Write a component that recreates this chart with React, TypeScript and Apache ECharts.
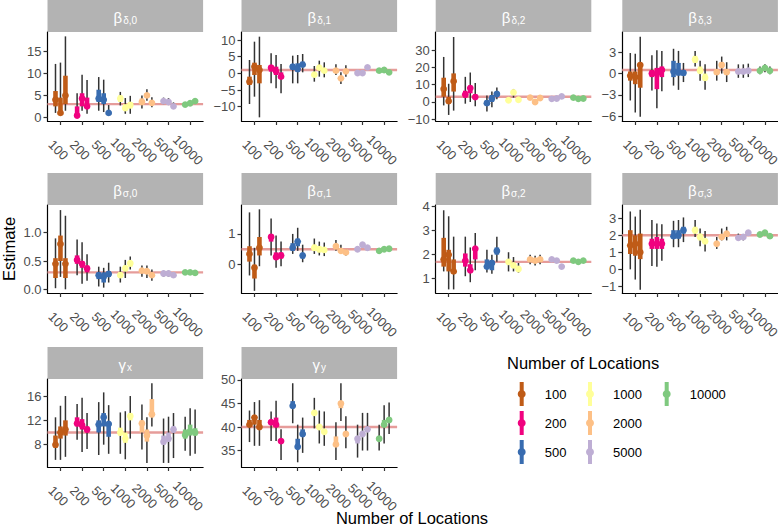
import React, { useEffect, useRef } from "react";
import * as echarts from "echarts";

// ---------- data ----------
const categories = ["100", "200", "500", "1000", "2000", "5000", "10000"];
const catColors = ["#BF5B17", "#F0027F", "#386CB0", "#FFFF99", "#FDC086", "#BEAED4", "#7FC97F"];
const panelSymbols = ["β", "β", "β", "β", "β", "β", "β", "β", "γ", "γ"];
const panelSubs = ["δ,0", "δ,1", "δ,2", "δ,3", "σ,0", "σ,1", "σ,2", "σ,3", "x", "y"];
const trueValues = [3, 1, 3, 0.5, 0.3, 0.5, 1.7, 2, 10, 40];
const yMins = [-0.85, -14.3, -11.0, -6.7, -0.065, -0.92, 0.4, -1.39, 4.33, 31.5];
const yMaxs = [19.5, 12.4, 40.4, 5.87, 1.49, 1.94, 4.07, 3.78, 18.8, 50.2];
const yTickValues = [
  [0, 5, 10, 15],
  [-10, -5, 0, 5, 10],
  [-10, 0, 10, 20, 30],
  [-6, -3, 0, 3],
  [0, 0.5, 1.0],
  [0, 1],
  [1, 2, 3, 4],
  [-1, 0, 1, 2, 3],
  [8, 12, 16],
  [35, 40, 45, 50],
];
const yTickDecimals = [0, 0, 0, 0, 1, 0, 0, 0, 0, 0];

// each array: 7 categories x 3 replicates (category-major)
const bd0Est = [4.0, 1.0, 5.0, 0.4, 4.3, 2.5, 4.3, 4.0, 1.0, 4.3, 2.1, 2.8, 3.5, 5.0, 3.3, 3.7, 3.5, 2.5, 2.9, 3.2, 3.7];
const bd0Lo50 = [2.5, 0.8, 3.0, 0.0, 2.5, 2.0, 3.5, 3.0, 0.8, 3.5, 1.5, 2.0, 3.0, 4.5, 3.0, 3.4, 3.2, 2.3, 2.8, 3.0, 3.5];
const bd0Hi50 = [6.0, 4.5, 9.5, 2.5, 5.5, 4.5, 6.3, 5.5, 1.3, 5.0, 3.0, 3.5, 4.3, 5.5, 3.8, 4.0, 3.8, 2.8, 3.0, 3.4, 3.9];
const bd0Lo95 = [1.0, 0.5, 1.5, 0.0, 1.5, 0.8, 1.5, 1.2, 0.8, 2.7, 0.8, 0.8, 2.0, 3.8, 2.3, 3.0, 2.8, 2.0, 2.6, 2.8, 3.3];
const bd0Hi95 = [12.2, 12.5, 18.5, 5.5, 9.7, 8.5, 9.2, 8.6, 2.8, 5.8, 4.4, 4.9, 5.0, 6.4, 4.6, 4.5, 4.4, 3.4, 3.2, 3.6, 4.1];

const bd1Est = [-2.5, 2.0, 1.0, 1.7, 0.6, -1.0, 2.0, 1.3, 2.6, -0.4, 1.7, 0.8, 0.8, -1.5, 0.6, 0.1, 0.1, 1.8, 0.8, 1.0, 0.3];
const bd1Lo50 = [-3.5, -0.5, -3.0, 0.5, -0.5, -1.5, 1.0, 0.5, 2.0, -0.8, 1.2, 0.4, 0.5, -1.8, 0.3, -0.1, -0.1, 1.5, 0.6, 0.8, 0.1];
const bd1Hi50 = [-1.0, 3.2, 2.5, 2.5, 2.0, 0.3, 2.8, 3.0, 3.5, 0.0, 2.2, 1.2, 1.1, -1.2, 0.9, 0.3, 0.3, 2.1, 1.0, 1.2, 0.5];
const bd1Lo95 = [-9.2, -7.0, -13.2, -3.0, -4.5, -6.0, -3.0, -3.0, 0.3, -2.5, -1.0, -1.2, -0.5, -3.2, -1.0, -0.5, -0.6, 1.1, 0.4, 0.6, -0.1];
const bd1Hi95 = [4.0, 9.5, 11.0, 6.0, 5.5, 2.8, 5.3, 5.5, 5.8, 2.2, 3.8, 3.3, 2.7, 0.3, 2.4, 0.8, 0.8, 2.5, 1.2, 1.4, 0.7];

const bd2Est = [7.5, 0.5, 12.0, 4.3, 8.0, 2.8, -0.7, 2.0, 4.6, 1.0, 5.5, 1.3, 2.5, 0.0, 2.3, 1.8, 2.0, 3.2, 2.5, 1.8, 2.0];
const bd2Lo50 = [3.0, -1.0, 6.0, 2.5, 5.0, 1.5, -2.0, 0.0, 3.0, 0.7, 4.0, 1.0, 2.0, -0.4, 1.8, 1.5, 1.7, 2.8, 2.2, 1.5, 1.7];
const bd2Hi50 = [14.0, 3.0, 16.5, 6.5, 9.5, 4.5, 1.0, 4.0, 6.0, 1.3, 6.5, 1.6, 3.0, 0.4, 2.8, 2.1, 2.3, 3.6, 2.8, 2.1, 2.3];
const bd2Lo95 = [-2.0, -7.5, -5.0, -1.0, 0.0, -2.5, -5.5, -3.0, 1.5, 0.5, 2.5, 0.8, 1.8, -0.5, 1.5, 1.3, 1.5, 2.5, 2.0, 1.3, 1.5];
const bd2Hi95 = [26.0, 10.5, 37.5, 14.5, 17.0, 11.0, 3.7, 6.0, 8.3, 1.5, 7.5, 1.8, 3.4, 0.5, 3.2, 2.3, 2.5, 3.9, 3.0, 2.3, 2.5];

const bd3Est = [-0.3, -0.5, 1.2, 0.0, 0.0, 0.5, 0.3, 0.2, 0.1, 2.0, 0.4, -0.6, 0.2, 1.2, 0.2, 0.3, 0.3, 0.4, 0.4, 0.8, 0.4];
const bd3Lo50 = [-1.0, -1.5, -2.0, -0.5, -2.2, -0.5, -0.5, -0.3, -0.3, 1.5, 0.0, -1.0, -0.2, 0.8, -0.2, 0.1, 0.1, 0.2, 0.3, 0.6, 0.3];
const bd3Hi50 = [0.3, 0.3, 1.3, 0.5, 0.8, 1.0, 1.8, 1.5, 0.5, 2.5, 1.0, 0.0, 0.6, 1.6, 0.6, 0.5, 0.5, 0.6, 0.5, 1.0, 0.5];
const bd3Lo95 = [-3.8, -5.5, -6.1, -2.4, -4.9, -2.5, -1.7, -2.3, -1.2, 1.0, -1.0, -2.3, -1.0, 0.0, -1.2, -0.6, -0.6, -0.5, -0.1, 0.2, -0.1];
const bd3Hi95 = [2.9, 2.8, 5.2, 2.6, 3.3, 3.2, 3.5, 3.2, 1.5, 3.2, 1.8, 1.3, 1.8, 2.4, 1.6, 1.3, 1.3, 1.4, 1.0, 1.3, 1.0];

const bs0Est = [0.45, 0.8, 0.45, 0.52, 0.45, 0.37, 0.25, 0.22, 0.27, 0.25, 0.37, 0.46, 0.33, 0.32, 0.25, 0.28, 0.28, 0.25, 0.3, 0.3, 0.29];
const bs0Lo50 = [0.2, 0.5, 0.2, 0.45, 0.38, 0.3, 0.18, 0.12, 0.22, 0.2, 0.32, 0.4, 0.3, 0.28, 0.22, 0.26, 0.26, 0.23, 0.29, 0.29, 0.28];
const bs0Hi50 = [0.55, 0.95, 0.55, 0.6, 0.5, 0.42, 0.3, 0.3, 0.32, 0.3, 0.42, 0.5, 0.36, 0.35, 0.28, 0.3, 0.3, 0.27, 0.31, 0.31, 0.3];
const bs0Lo95 = [0.02, 0.22, 0.0, 0.25, 0.1, 0.15, 0.05, 0.03, 0.12, 0.12, 0.2, 0.35, 0.22, 0.2, 0.15, 0.22, 0.22, 0.2, 0.26, 0.26, 0.25];
const bs0Hi95 = [0.9, 1.4, 1.3, 0.88, 0.83, 0.62, 0.4, 0.38, 0.47, 0.4, 0.52, 0.58, 0.42, 0.42, 0.35, 0.33, 0.33, 0.3, 0.33, 0.33, 0.32];

const bs1Est = [0.35, -0.1, 0.55, 0.9, 0.25, 0.3, 0.55, 0.75, 0.3, 0.55, 0.5, 0.48, 0.6, 0.45, 0.4, 0.5, 0.65, 0.55, 0.45, 0.5, 0.52];
const bs1Lo50 = [0.1, -0.45, 0.3, 0.75, 0.15, 0.2, 0.45, 0.6, 0.2, 0.45, 0.4, 0.4, 0.5, 0.4, 0.35, 0.45, 0.6, 0.5, 0.4, 0.45, 0.48];
const bs1Hi50 = [0.6, 0.0, 0.9, 1.0, 0.4, 0.4, 0.7, 0.85, 0.35, 0.65, 0.6, 0.55, 0.65, 0.5, 0.45, 0.55, 0.7, 0.6, 0.5, 0.55, 0.56];
const bs1Lo95 = [-0.35, -0.85, -0.05, 0.3, -0.1, -0.05, 0.35, 0.45, 0.08, 0.35, 0.3, 0.28, 0.45, 0.35, 0.3, 0.42, 0.55, 0.48, 0.4, 0.45, 0.47];
const bs1Hi95 = [1.7, 0.55, 1.8, 1.5, 0.95, 0.75, 1.0, 1.2, 0.65, 0.85, 0.75, 0.72, 0.8, 0.65, 0.5, 0.6, 0.72, 0.62, 0.52, 0.56, 0.58];

const bs2Est = [1.8, 2.0, 1.3, 1.75, 1.35, 2.25, 1.5, 1.65, 2.15, 1.7, 1.55, 1.4, 1.8, 1.75, 1.8, 1.8, 1.75, 1.5, 1.75, 1.7, 1.75];
const bs2Lo50 = [1.5, 1.3, 1.2, 1.5, 1.25, 1.8, 1.4, 1.35, 2.0, 1.6, 1.45, 1.3, 1.7, 1.65, 1.7, 1.75, 1.7, 1.45, 1.7, 1.65, 1.7];
const bs2Hi50 = [2.7, 2.2, 1.8, 2.05, 1.6, 2.3, 1.8, 1.75, 2.3, 1.8, 1.65, 1.5, 1.9, 1.85, 1.9, 1.85, 1.8, 1.55, 1.8, 1.75, 1.8];
const bs2Lo95 = [1.3, 0.55, 0.55, 1.1, 0.85, 1.35, 1.25, 1.2, 1.7, 1.3, 1.3, 1.25, 1.6, 1.55, 1.6, 1.7, 1.65, 1.4, 1.65, 1.6, 1.65];
const bs2Hi95 = [3.85, 3.6, 2.75, 2.75, 2.3, 2.9, 2.2, 2.0, 2.75, 2.1, 1.9, 1.65, 2.0, 1.95, 2.0, 1.9, 1.85, 1.6, 1.85, 1.8, 1.85];

const bs3Est = [1.4, 1.5, 1.0, 1.5, 1.5, 1.5, 1.95, 2.0, 2.3, 2.3, 1.9, 1.65, 1.5, 1.9, 2.1, 1.85, 1.9, 2.15, 2.05, 2.15, 1.95];
const bs3Lo50 = [0.9, 0.8, 0.6, 1.2, 1.2, 1.2, 1.8, 1.8, 2.1, 2.1, 1.7, 1.5, 1.4, 1.8, 1.9, 1.8, 1.8, 2.05, 2.0, 2.1, 1.9];
const bs3Hi50 = [2.3, 2.0, 2.1, 1.8, 1.9, 1.8, 2.3, 2.3, 2.5, 2.5, 2.1, 1.8, 1.6, 2.0, 2.2, 1.95, 2.0, 2.25, 2.1, 2.2, 2.0];
const bs3Lo95 = [0.0, -0.6, -1.2, 0.2, 0.15, 0.5, 1.3, 1.3, 1.6, 1.9, 1.35, 1.05, 1.2, 1.7, 1.7, 1.7, 1.7, 2.0, 1.95, 2.05, 1.85];
const bs3Hi95 = [3.4, 3.1, 3.5, 2.9, 2.7, 2.65, 2.85, 2.9, 3.05, 2.9, 2.4, 2.25, 1.9, 2.4, 2.5, 2.1, 2.05, 2.3, 2.15, 2.25, 2.05];

const gxEst = [8.0, 10.0, 10.5, 11.5, 11.2, 10.5, 11.3, 12.5, 11.4, 10.0, 9.0, 12.7, 11.5, 9.5, 13.0, 8.5, 9.0, 10.5, 9.6, 10.2, 10.0];
const gxLo50 = [7.5, 9.0, 9.5, 11.0, 10.5, 10.0, 10.0, 11.0, 9.3, 9.5, 8.3, 12.0, 10.0, 8.5, 12.5, 8.0, 8.5, 10.0, 9.0, 9.5, 9.5];
const gxHi50 = [9.5, 11.0, 12.0, 12.5, 12.2, 11.0, 12.0, 13.2, 11.6, 10.8, 10.0, 13.2, 12.0, 10.5, 15.5, 9.5, 10.0, 11.0, 10.5, 11.3, 10.7];
const gxLo95 = [5.5, 5.5, 6.0, 8.8, 6.8, 7.3, 6.3, 8.0, 6.5, 6.5, 5.6, 9.0, 7.2, 5.0, 11.0, 5.0, 5.0, 5.8, 7.0, 6.2, 6.5];
const gxHi95 = [12.5, 14.4, 16.0, 14.7, 15.7, 13.2, 15.0, 16.6, 14.5, 13.3, 13.5, 16.0, 14.6, 12.5, 18.1, 12.3, 12.6, 13.2, 12.6, 14.0, 13.8];

const gyEst = [40.5, 42.0, 40.0, 41.0, 40.5, 37.0, 44.5, 35.8, 38.5, 43.0, 40.0, 39.0, 36.3, 45.0, 38.5, 37.5, 38.5, 39.5, 37.5, 40.5, 41.5];
const gyLo50 = [40.0, 40.5, 39.5, 40.5, 40.0, 36.5, 44.0, 35.5, 38.0, 42.5, 39.5, 38.5, 36.0, 44.0, 38.0, 36.5, 38.0, 39.0, 37.0, 40.0, 41.0];
const gyHi50 = [41.5, 42.5, 41.5, 41.5, 42.0, 37.5, 45.5, 37.5, 39.5, 43.5, 40.5, 39.5, 38.0, 45.5, 39.0, 38.0, 39.0, 40.0, 38.0, 41.5, 42.0];
const gyLo95 = [36.8, 36.0, 36.0, 37.0, 37.0, 33.0, 40.8, 32.5, 34.5, 39.7, 36.5, 36.0, 33.0, 41.3, 35.5, 33.5, 35.0, 35.0, 35.0, 36.5, 38.5];
const gyHi95 = [43.5, 45.3, 45.7, 43.3, 45.6, 39.5, 49.3, 40.5, 42.0, 46.2, 43.5, 43.3, 41.0, 49.3, 42.3, 40.5, 43.0, 43.0, 40.5, 44.6, 45.2];

const panelData = [
  [bd0Est, bd0Lo50, bd0Hi50, bd0Lo95, bd0Hi95],
  [bd1Est, bd1Lo50, bd1Hi50, bd1Lo95, bd1Hi95],
  [bd2Est, bd2Lo50, bd2Hi50, bd2Lo95, bd2Hi95],
  [bd3Est, bd3Lo50, bd3Hi50, bd3Lo95, bd3Hi95],
  [bs0Est, bs0Lo50, bs0Hi50, bs0Lo95, bs0Hi95],
  [bs1Est, bs1Lo50, bs1Hi50, bs1Lo95, bs1Hi95],
  [bs2Est, bs2Lo50, bs2Hi50, bs2Lo95, bs2Hi95],
  [bs3Est, bs3Lo50, bs3Hi50, bs3Lo95, bs3Hi95],
  [gxEst, gxLo50, gxHi50, gxLo95, gxHi95],
  [gyEst, gyLo50, gyHi50, gyLo95, gyHi95],
];

const legendColumns = [["100", "200", "500"], ["1000", "2000", "5000"], ["10000"]];

// ---------- layout ----------
const FONT = "'Liberation Sans', Arial, Helvetica, sans-serif";
const colLefts = [47.5, 241.5, 435.7, 622.3];
const panelWidth = 155.6;
const rowTops = [32, 205, 379];
const panelHeights = [89, 88, 88];
const stripHeight = 32;
const REPS = 3;
const DODGE = 0.23;
const LEGEND_ICON =
  "path://M2,0L6,0L6,8.54A4,4,0,0,1,6,15.46L6,24L2,24L2,15.46A4,4,0,0,1,2,8.54Z";

function fmtTick(v: number, d: number) {
  const s = v.toFixed(d);
  return s.replace("-", "\u2212");
}

function buildOption() {
  const grids: any[] = [];
  const xAxes: any[] = [];
  const yAxes: any[] = [];
  const series: any[] = [];
  const graphics: any[] = [];
  const catPos = categories.map((_, i) => i);

  panelData.forEach((arrs, p) => {
    const row = Math.floor(p / 4);
    const col = p % 4;
    const left = colLefts[col];
    const top = rowTops[row];
    const height = panelHeights[row];
    grids.push({ left, top, width: panelWidth, height, outerBoundsMode: "none", containLabel: false });
    xAxes.push({
      type: "value",
      gridIndex: p,
      min: -0.6,
      max: 6.6,
      axisLine: { show: true, onZero: false, lineStyle: { color: "#000", width: 1.2 } },
      axisTick: { show: true, length: 4, customValues: catPos, lineStyle: { color: "#333", width: 1.2 } },
      axisLabel: {
        customValues: catPos.map((v) => v - 0.1),
        formatter: (v: number) => categories[Math.round(v + 0.1)] ?? "",
        rotate: -45,
        align: "center",
        verticalAlign: "middle",
        margin: 29,
        fontSize: 13,
        color: "#4d4d4d",
        fontFamily: FONT,
      },
      splitLine: { show: false },
    });
    const dec = yTickDecimals[p];
    yAxes.push({
      type: "value",
      gridIndex: p,
      min: yMins[p],
      max: yMaxs[p],
      axisLine: { show: true, onZero: false, lineStyle: { color: "#000", width: 1.2 } },
      axisTick: { show: true, length: 4, customValues: yTickValues[p], lineStyle: { color: "#333", width: 1.2 } },
      axisLabel: {
        customValues: yTickValues[p],
        formatter: (v: number) => fmtTick(v, dec),
        margin: 6,
        fontSize: 13,
        color: "#4d4d4d",
        fontFamily: FONT,
      },
      splitLine: { show: false },
    });

    // reference line (true value)
    series.push({
      type: "custom",
      xAxisIndex: p,
      yAxisIndex: p,
      z: 1,
      silent: true,
      data: [[0, trueValues[p]]],
      encode: { x: 0, y: 1 },
      renderItem: (params: any, api: any) => {
        const cs = params.coordSys;
        const y = api.coord([0, api.value(1)])[1];
        return {
          type: "line",
          shape: { x1: cs.x, y1: y, x2: cs.x + cs.width, y2: y },
          style: { stroke: "#e69c9a", lineWidth: 2.4 },
        };
      },
    });

    const [est, lo50, hi50, lo95, hi95] = arrs;
    categories.forEach((cat, c) => {
      const data: number[][] = [];
      for (let r = 0; r < REPS; r++) {
        const k = c * REPS + r;
        data.push([c, r, est[k], lo50[k], hi50[k], lo95[k], hi95[k]]);
      }
      const color = catColors[c];
      series.push({
        type: "custom",
        name: cat,
        xAxisIndex: p,
        yAxisIndex: p,
        z: 2,
        itemStyle: { color },
        data,
        encode: { x: 0, y: 2 },
        renderItem: (params: any, api: any) => {
          const xv = api.value(0) + (api.value(1) - 1) * DODGE;
          const pe = api.coord([xv, api.value(2)]);
          const a50 = api.coord([xv, api.value(3)]);
          const b50 = api.coord([xv, api.value(4)]);
          const a95 = api.coord([xv, api.value(5)]);
          const b95 = api.coord([xv, api.value(6)]);
          return {
            type: "group",
            children: [
              {
                type: "line",
                z2: 0,
                shape: { x1: pe[0], y1: a95[1], x2: pe[0], y2: b95[1] },
                style: { stroke: "#333333", lineWidth: 1.5 },
              },
              {
                type: "line",
                z2: 1,
                shape: { x1: pe[0], y1: a50[1], x2: pe[0], y2: b50[1] },
                style: { stroke: color, lineWidth: 4.6 },
              },
              {
                type: "circle",
                z2: 2,
                shape: { cx: pe[0], cy: pe[1], r: 3.4 },
                style: { fill: color },
              },
            ],
          };
        },
      });
    });

    // facet strip
    graphics.push({
      type: "rect",
      x: left,
      y: top - stripHeight,
      shape: { x: 0, y: 0, width: panelWidth, height: stripHeight },
      style: { fill: "#b3b3b3" },
      silent: true,
    });
    graphics.push({
      type: "text",
      x: left + panelWidth / 2,
      y: top - stripHeight / 2 + 1,
      silent: true,
      style: {
        text: `{b|${panelSymbols[p]}}{s|${panelSubs[p]}}`,
        align: "center",
        verticalAlign: "middle",
        fill: "#ffffff",
        rich: {
          b: { fontSize: 15, lineHeight: 16, verticalAlign: "bottom", fill: "#ffffff", fontFamily: FONT },
          s: { fontSize: 10, lineHeight: 10, padding: [8, 0, 0, 1], verticalAlign: "bottom", fill: "#ffffff", fontFamily: FONT },
        },
      },
    });
  });

  // axis titles and legend title
  graphics.push({
    type: "text",
    x: 9,
    y: 249,
    rotation: Math.PI / 2,
    silent: true,
    style: { text: "Estimate", align: "center", verticalAlign: "middle", fontSize: 16.5, fill: "#000", fontFamily: FONT },
  });
  graphics.push({
    type: "text",
    x: 412,
    y: 518,
    silent: true,
    style: { text: "Number of Locations", align: "center", verticalAlign: "middle", fontSize: 16.5, fill: "#000", fontFamily: FONT },
  });
  graphics.push({
    type: "text",
    x: 507,
    y: 363,
    silent: true,
    style: { text: "Number of Locations", align: "left", verticalAlign: "middle", fontSize: 16.5, fill: "#000", fontFamily: FONT },
  });

  const legendLefts = [517.7, 586, 662.7];
  const legends = legendColumns.map((names, i) => ({
    show: true,
    orient: "vertical",
    left: legendLefts[i],
    top: 382,
    padding: 0,
    itemGap: 5,
    itemWidth: 8,
    itemHeight: 24,
    icon: LEGEND_ICON,
    selectedMode: false,
    data: names,
    textStyle: { fontSize: 13, color: "#000", fontFamily: FONT, padding: [0, 0, 0, 14] },
  }));

  return {
    animation: false,
    backgroundColor: "#ffffff",
    textStyle: { fontFamily: FONT },
    grid: grids,
    xAxis: xAxes,
    yAxis: yAxes,
    legend: legends,
    series,
    graphic: graphics,
  };
}

export default function App() {
  const ref = useRef<HTMLDivElement>(null);
  useEffect(() => {
    if (!ref.current) return;
    const chart = echarts.init(ref.current, undefined, { renderer: "svg" });
    chart.setOption(buildOption() as any);
    return () => chart.dispose();
  }, []);
  return (
    <div
      ref={ref}
      style={{ position: "fixed", left: 0, top: 0, width: 778, height: 529, background: "#fff" }}
    />
  );
}
